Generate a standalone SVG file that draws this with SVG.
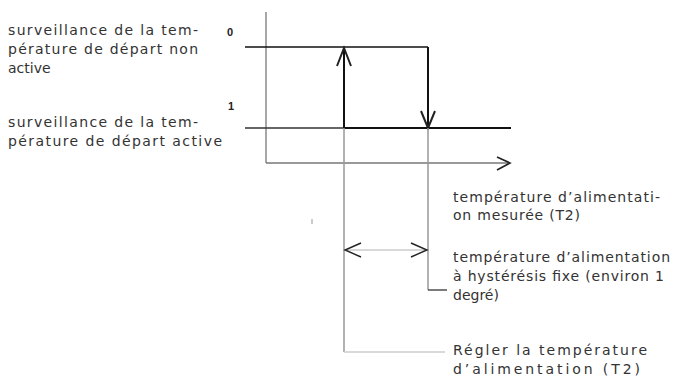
<svg xmlns="http://www.w3.org/2000/svg" width="678" height="378" viewBox="0 0 678 378">
<style>
.t{font-family:"DejaVu Sans","Noto Sans",sans-serif;font-size:14px;fill:#333}
.n{font-family:"Liberation Sans",Arial,sans-serif;font-size:11px;font-weight:bold;fill:#222}
.ax{stroke:#777;stroke-width:1.3;fill:none}
.th{stroke:#111;stroke-width:2;fill:none}
.gl{stroke:#999;stroke-width:1.5;fill:none}
.lg{stroke:#ccc;stroke-width:1.5;fill:none}
.ah{stroke:#222;stroke-width:1.6;fill:none}
</style>
<rect width="678" height="378" fill="#fff"/>
<g id="labels-left">
<text class="t" x="8" y="35" textLength="190" lengthAdjust="spacing">surveillance de la tem-</text>
<text class="t" x="8" y="54" textLength="190" lengthAdjust="spacing">pérature de départ non</text>
<text class="t" x="8" y="73">active</text>
<text class="t" x="8" y="127" textLength="190" lengthAdjust="spacing">surveillance de la tem-</text>
<text class="t" x="8" y="146" textLength="214" lengthAdjust="spacing">pérature de départ active</text>
</g>
<g id="levels">
<text class="n" x="227" y="36">0</text>
<text class="n" x="228" y="110">1</text>
</g>
<g id="connectors">
<line class="ax" x1="266" y1="12" x2="266" y2="163"/>
<line class="ax" x1="266" y1="163" x2="508" y2="163"/>
<polyline class="ah" points="497,157 510,163 497,170"/>
<line class="th" x1="245" y1="47" x2="428" y2="47" style="stroke-width:1.6"/>
<line class="th" x1="428" y1="47" x2="428" y2="128"/>
<polyline class="ah" points="421,111 428,128 435,111" style="stroke-width:2"/>
<line class="ax" x1="245" y1="128" x2="344" y2="128" style="stroke:#333"/>
<line class="th" x1="344" y1="128" x2="511" y2="128"/>
<line class="th" x1="344" y1="128" x2="344" y2="48"/>
<polyline class="ah" points="337,66 344,48 351,66" style="stroke-width:2"/>
<line class="gl" x1="344" y1="128" x2="344" y2="352"/>
<line class="gl" x1="428" y1="128" x2="428" y2="290"/>
<line class="ah" x1="428" y1="290" x2="447" y2="290" style="stroke-width:1.3;stroke:#333"/>
<line class="lg" x1="344" y1="352" x2="445" y2="352"/>
<line class="lg" x1="345" y1="250" x2="427" y2="250"/>
<polyline class="ah" points="361,243 345,250 361,257" style="stroke-width:1.4"/>
<polyline class="ah" points="411,243 427,250 411,257" style="stroke-width:1.4"/>
<line x1="312" y1="219" x2="312" y2="224" stroke="#999" stroke-width="1"/>
</g>
<g id="labels-right">
<text class="t" x="453" y="202" textLength="207" lengthAdjust="spacing">température d’alimentati-</text>
<text class="t" x="453" y="220" textLength="127" lengthAdjust="spacing">on mesurée (T2)</text>
<text class="t" x="453" y="262" textLength="217" lengthAdjust="spacing">température d’alimentation</text>
<text class="t" x="453" y="281" textLength="211" lengthAdjust="spacing">à hystérésis fixe (environ 1</text>
<text class="t" x="453" y="300">degré)</text>
<text class="t" x="453" y="355" textLength="194" lengthAdjust="spacing">Régler la température</text>
<text class="t" x="453" y="374" textLength="187" lengthAdjust="spacing">d’alimentation (T2)</text>
</g>
</svg>
